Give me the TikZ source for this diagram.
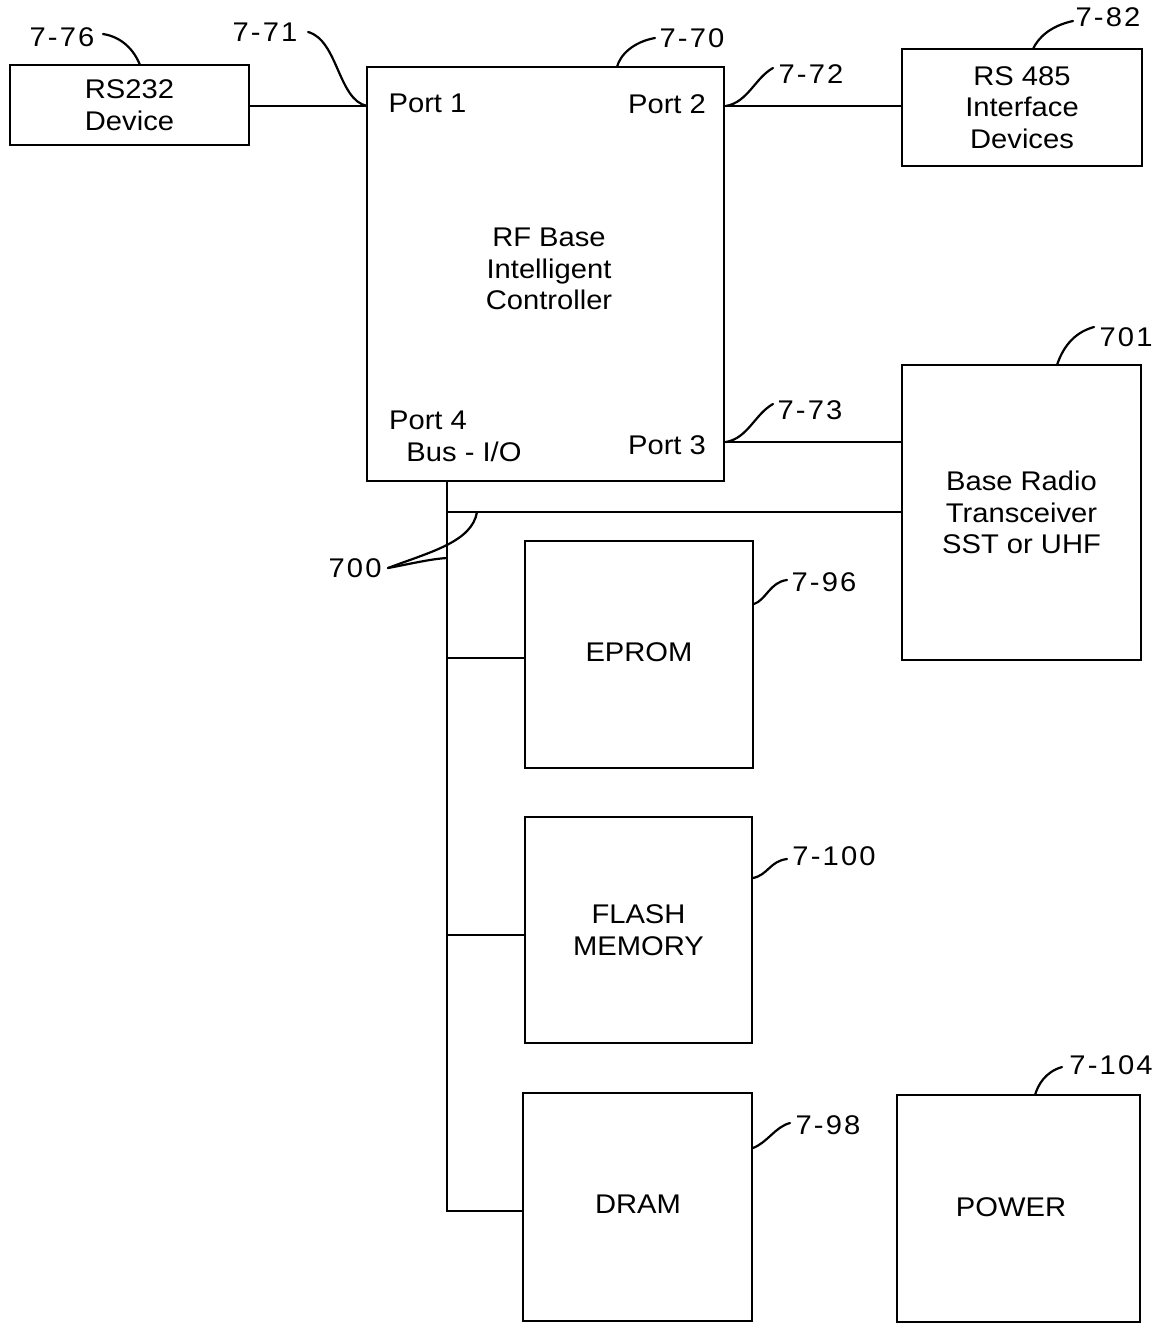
\documentclass[tikz,border=0pt]{standalone}
\usepackage{fontspec}
\setmainfont[FakeStretch=1.08]{Liberation Sans}
\newfontfamily\lblfont[FakeStretch=1.08,LetterSpace=8]{Liberation Sans}
\begin{document}
\begin{tikzpicture}[x=1pt,y=-1pt,
  box/.style={draw,line width=2.8pt,inner sep=0pt,align=center,font=\fontsize{27}{31.5}\selectfont},
  txt/.style={inner sep=0pt,align=center,font=\fontsize{27}{31.5}\selectfont},
  lbl/.style={inner sep=0pt,font=\lblfont\fontsize{27}{31.5}\selectfont},
  wire/.style={line width=2.4pt},
  lead/.style={line width=2.2pt,line cap=round}]
\useasboundingbox (0,0) rectangle (1163,1324);

% boxes
\node[box,minimum width=239pt,minimum height=80pt] (rs232) at (129.5,105) {RS232\\Device};
\node[box,minimum width=357pt,minimum height=414pt] (ctrl) at (545.5,274) {};
\node[txt] (ctrltxt) at (549,269) {RF Base\\Intelligent\\Controller};
\node[txt] (p1) at (427.5,103) {Port 1};
\node[txt] (p2) at (667,104) {Port 2};
\node[txt] (p4) at (428,420) {Port 4};
\node[txt] (busio) at (464,452) {Bus - I/O};
\node[txt] (p3) at (667,445) {Port 3};
\node[box,minimum width=240pt,minimum height=117pt] (rs485) at (1022,107.5) {RS 485\\Interface\\Devices};
\node[box,minimum width=239pt,minimum height=295pt] (radio) at (1021.5,512.5) {Base Radio\\Transceiver\\SST or UHF};
\node[box,minimum width=228pt,minimum height=227pt] (eprom) at (639,654.5) {};
\node[txt] (epromtxt) at (639,652) {EPROM};
\node[box,minimum width=227pt,minimum height=226pt] (flash) at (638.5,930) {FLASH\\MEMORY};
\node[box,minimum width=229pt,minimum height=228pt] (dram) at (637.5,1207) {};
\node[txt] (dramtxt) at (638,1204) {DRAM};
\node[box,minimum width=243pt,minimum height=227pt] (power) at (1018.5,1208.5) {};
\node[txt] (powertxt) at (1011,1207) {POWER};

% reference labels
\node[lbl] (l76) at (62,37) {7-76};
\node[lbl] (l71) at (265,32) {7-71};
\node[lbl] (l70) at (692,38) {7-70};
\node[lbl] (l72) at (811,74) {7-72};
\node[lbl] (l82) at (1108,17) {7-82};
\node[lbl] (l73) at (810,410) {7-73};
\node[lbl] (l701) at (1126,337) {701};
\node[lbl] (l700) at (355,568) {700};
\node[lbl] (l96) at (824,582) {7-96};
\node[lbl] (l100) at (834,856) {7-100};
\node[lbl] (l98) at (828,1125) {7-98};
\node[lbl] (l104) at (1111,1065) {7-104};

% connectors
\coordinate (c1) at (0,106);
\coordinate (c3) at (0,442);
\draw[wire] (rs232.east |- c1) -- (ctrl.west |- c1);
\draw[wire] (ctrl.east |- c1) -- (rs485.west |- c1);
\draw[wire] (ctrl.east |- c3) -- (radio.west |- c3);
\coordinate (bt) at (447,481);
\coordinate (bb) at (447,1211);
\coordinate (jr) at (447,512);
\coordinate (je) at (447,658);
\coordinate (jf) at (447,935);
\draw[wire] (bt) -- (bb) -- (bb -| dram.west);
\draw[wire] (jr) -- (jr -| radio.west);
\draw[wire] (je) -- (je -| eprom.west);
\draw[wire] (jf) -- (jf -| flash.west);

% leader lines
\draw[lead] (103,34) .. controls (122,37) and (134,50) .. (140,65);
\draw[lead] (308,32) .. controls (338,40) and (338,100) .. (367,106);
\draw[lead] (655,38) .. controls (633,42) and (620,55) .. (617,67);
\draw[lead] (773,68) .. controls (755,78) and (748,102) .. (726,106);
\draw[lead] (1073,21) .. controls (1050,26) and (1038,38) .. (1033,49);
\draw[lead] (773,404) .. controls (755,414) and (748,438) .. (726,442);
\draw[lead] (1094,327) .. controls (1072,333) and (1062,350) .. (1057,365);
\draw[lead] (388,568) .. controls (430,552) and (472,542) .. (477,512);
\draw[lead] (388,568) .. controls (410,564) and (430,559) .. (447,558);
\draw[lead] (787,580) .. controls (770,582) and (766,600) .. (754,604);
\draw[lead] (787,859) .. controls (770,861) and (768,875) .. (753,878);
\draw[lead] (790,1123) .. controls (775,1127) and (768,1142) .. (753,1148);
\draw[lead] (1062,1067) .. controls (1045,1072) and (1038,1085) .. (1035,1095);
\end{tikzpicture}
\end{document}
